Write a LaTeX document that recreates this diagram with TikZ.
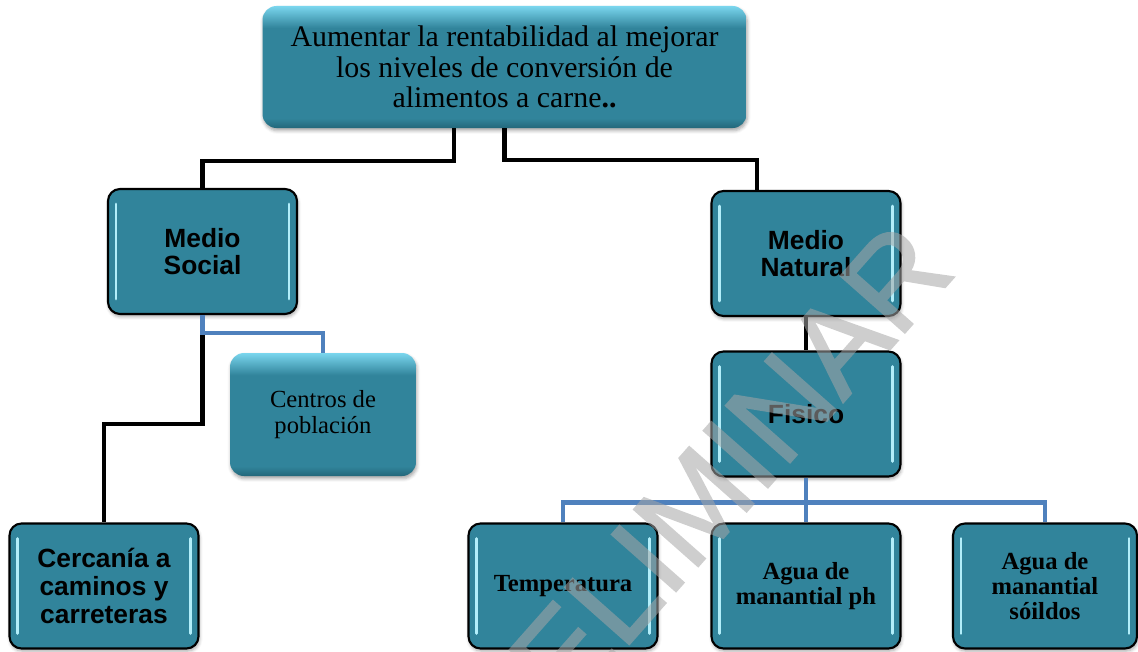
\documentclass[tikz,border=0pt]{standalone}
\usepackage{fontspec}
\setmainfont{Liberation Serif}
\setsansfont{Liberation Sans}
\usepackage{tikz}
\usetikzlibrary{calc, shadows.blur}
\definecolor{tealmd}{HTML}{31849B}
\definecolor{teallt}{HTML}{7AD6EE}
\definecolor{tealdk}{HTML}{23677A}
\definecolor{glosslight}{HTML}{B2EEFA}
\definecolor{azul}{HTML}{4F81BD}
\definecolor{marcagris}{HTML}{A6A6A6}
\pgfdeclareverticalshading{bisel}{100bp}{color(0bp)=(tealdk); color(25bp)=(tealdk);
  color(29bp)=(tealmd); color(66bp)=(tealmd); color(75bp)=(teallt); color(100bp)=(teallt)}
\tikzset{
  bevel/.style     = {rectangle, rounded corners=0.28cm, shade, shading=bisel,
                      minimum width=3.72cm, minimum height=2.46cm,
                      align=center, font=\fontsize{14}{14.7}\selectfont,
                      blur shadow={shadow xshift=0.5pt, shadow yshift=-1.5pt, shadow opacity=35}},
  shine/.style     = {draw=glosslight, line width=1.6pt, line cap=round},
  gloss/.style     = {rectangle, rounded corners=0.24cm, draw=black, line width=1.2pt,
                      fill=tealmd, minimum width=3.78cm, minimum height=2.5cm, align=center,
                      blur shadow={shadow xshift=0.5pt, shadow yshift=-1.5pt, shadow opacity=35},
                      path picture={
                        \draw[shine] ([shift={(0.16cm,-0.3cm)}]path picture bounding box.north west)
                                  -- ([shift={(0.16cm,0.3cm)}]path picture bounding box.south west);
                        \draw[shine] ([shift={(-0.16cm,-0.3cm)}]path picture bounding box.north east)
                                  -- ([shift={(-0.16cm,0.3cm)}]path picture bounding box.south east);
                      }},
  blackline/.style = {draw=black, line width=2.4pt},
  blueline/.style  = {draw=azul, line width=2.6pt},
}

\begin{document}
\begin{tikzpicture}[
    sansbig/.style={font=\fontsize{15}{15.8}\selectfont\sffamily\bfseries},
    serifbold/.style={font=\fontsize{14}{14.4}\selectfont\bfseries},
    watermark/.style={font=\fontsize{71}{71}\selectfont\sffamily\addfontfeatures{FakeBold=1.5},
                      text=marcagris, rotate=48.5},
  ]
  \useasboundingbox (0,0) rectangle (22.76,-13.02);

  \node[bevel, minimum width=9.68cm, minimum height=2.44cm, font=\fontsize{17}{17.4}\selectfont] (goal) at (10.09,-1.34)
       {Aumentar la rentabilidad al mejorar\\los niveles de conversión de\\alimentos a carne\textbf{..}};

  \node[gloss, sansbig] (social) at (4.05,-5.03) {Medio\\Social};
  \node[gloss, sansbig] (natural) at (16.12,-5.07) {Medio\\Natural};
  \node[bevel] (centros) at (6.46,-8.29) {Centros de\\población};
  \node[gloss, sansbig] (fisico) at (16.12,-8.28) {Fisico};
  \node[gloss, sansbig] (cercania) at (2.08,-11.72) {Cercanía a\\caminos y\\carreteras};
  \node[gloss, serifbold] (temp) at (11.26,-11.72) {Temperatura};
  \node[gloss, serifbold] (aguaph) at (16.12,-11.72) {Agua de\\manantial ph};
  \node[gloss, serifbold, minimum width=3.68cm] (solidos) at (20.9,-11.72) {Agua de\\manantial\\sóildos};

  \draw[blackline] ([xshift=-1.01cm]goal.south) -- ++(0,-0.66) -| (social.north);
  \draw[blackline] (goal.south) -- ++(0,-0.64) -| ([xshift=-0.98cm]natural.north);
  \draw[blackline] ([yshift=-0.36cm]social.south) -- ([yshift=-2.18cm]social.south) -| (cercania.north);
  \draw[blueline] (social.south) -- ++(0,-0.36) -| (centros.north);
  \draw[blackline] (natural.south) -- (fisico.north);
  \foreach \n in {temp, aguaph, solidos}
    \draw[blueline] (fisico.south) -- ++(0,-0.5) -| (\n.north);

  \begin{scope}[transparency group, opacity=0.55]
    \node[watermark] (prelim) at (13.46,-10.6) {PRELIMINAR};
  \end{scope}
\end{tikzpicture}
\end{document}
